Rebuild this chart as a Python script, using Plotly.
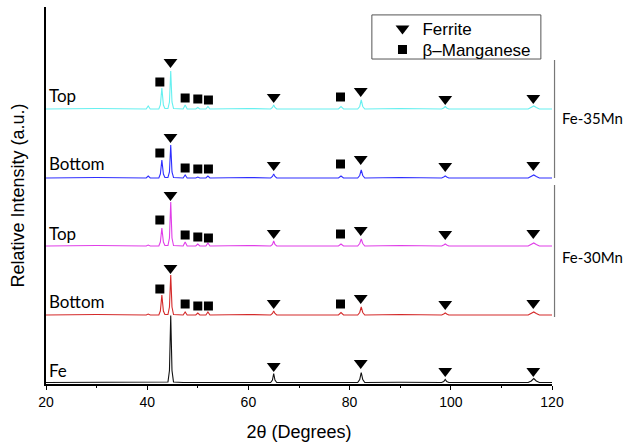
import plotly.graph_objects as go

# 2-theta sampling points (degrees)
two_theta = [20, 30, 39.8, 40.2, 40.6,
             42.3, 42.6, 42.9, 43.2, 43.5,
             44.1, 44.4, 44.65, 44.9, 45.2,
             47.1, 47.5, 47.9,
             49.6, 50.0, 50.4,
             51.6, 52.0, 52.4,
             60,
             64.4, 64.75, 65.0, 65.25, 65.6,
             77.8, 78.3, 78.8,
             81.6, 82.0, 82.3, 82.6, 83.0,
             90,
             98.2, 98.6, 98.9, 99.2, 99.6,
             115.3, 115.9, 116.4, 116.9, 117.5,
             120]

# intensities (a.u.) before vertical offset
fe35_top = [0, 0.5, 0, 3, 0,
            0, 4, 21, 4, 0.5,
            0.5, 7, 38, 7, 0.5,
            0, 4, 0,
            0, 1.5, 0,
            0, 2.5, 0,
            0.5,
            0, 1.5, 4, 1.5, 0,
            0, 2.5, 0,
            0, 2.5, 9, 2.5, 0,
            0.5,
            0, 1, 2.5, 1, 0,
            0, 1.5, 3, 1.5, 0,
            0]
fe35_bottom = [0, 0.5, 0, 2, 0,
               0, 4, 18, 4, 0.5,
               0.5, 6, 33, 6, 0.5,
               0, 3, 0,
               0, 1, 0,
               0, 2, 0,
               0.5,
               0, 1.5, 4, 1.5, 0,
               0, 2, 0,
               0, 2.5, 8, 2.5, 0,
               0.5,
               0, 1, 2, 1, 0,
               0, 1.5, 3, 1.5, 0,
               0]
fe30_top = [0, 0.5, 0, 1, 0,
            0, 4, 18, 4, 0.5,
            0.5, 8, 44, 8, 0.5,
            0, 4, 0,
            0, 2, 0,
            0, 3, 0,
            0.5,
            0, 1.5, 5, 1.5, 0,
            0, 2, 0,
            0, 2.5, 7, 2.5, 0,
            0.5,
            0, 1, 2, 1, 0,
            0, 1.5, 3, 1.5, 0,
            0]
fe30_bottom = [0, 0.5, 0, 1, 0,
               0, 4, 20, 4, 0.5,
               0.5, 8, 40, 8, 0.5,
               0, 3, 0,
               0, 2, 0,
               0, 3, 0,
               0.5,
               0, 1.5, 4, 1.5, 0,
               0, 2.5, 0,
               0, 2.5, 8, 2.5, 0,
               0.5,
               0, 1, 2, 1, 0,
               0, 1.5, 3, 1.5, 0,
               0]
fe_pure = [0, 0.3, 0, 0, 0,
           0, 0, 0, 0, 0,
           0.5, 12, 67, 12, 0.5,
           0, 0, 0,
           0, 0, 0,
           0, 0, 0,
           0.3,
           0, 2.5, 9, 2.5, 0,
           0, 0, 0,
           0, 3, 10, 3, 0,
           0.3,
           0, 1, 3, 1, 0,
           0, 1.5, 4, 1.5, 0,
           0]

series_names = ["Fe", "Fe-30Mn Bottom", "Fe-30Mn Top", "Fe-35Mn Bottom", "Fe-35Mn Top"]
series_values = [fe_pure, fe30_bottom, fe30_top, fe35_bottom, fe35_top]
series_offsets = [1.5, 69, 138, 206, 275]
series_colors = ["#111111", "#d42a2a", "#e03ee8", "#2f2fff", "#66f0f0"]
series_labels = ["Fe", "Bottom", "Top", "Bottom", "Top"]
label_y = [14, 83, 151, 221, 289]

# phase markers
ferrite_x = [44.6, 65.0, 82.2, 98.9, 116.3,
             44.6, 65.0, 82.2, 98.9, 116.3,
             44.6, 65.0, 82.2, 98.9, 116.3,
             44.6, 65.0, 82.2, 98.9, 116.3,
             65.0, 82.2, 98.9, 116.3]
ferrite_y = [322, 287, 293, 285, 286,
             247, 219, 225, 218, 219,
             189, 151, 154, 150, 151,
             116, 81, 86, 80, 81,
             18, 21, 13, 13]
mn_x = [42.5, 47.5, 50.0, 52.1, 78.2,
        42.5, 47.5, 50.0, 52.1, 78.2,
        42.5, 47.5, 50.0, 52.1, 78.2,
        42.5, 47.5, 50.0, 52.1, 78.2]
mn_y = [302, 286, 285, 284, 287,
        231, 216, 215, 215, 220,
        164, 149, 147, 146, 150,
        95, 80, 78, 78, 80]

fig = go.Figure()
for name, vals, off, col in zip(series_names, series_values, series_offsets, series_colors):
    fig.add_trace(go.Scatter(x=two_theta, y=[v + off for v in vals], mode="lines",
                             line=dict(color=col, width=1.1), name=name, showlegend=False))

fig.add_trace(go.Scatter(x=ferrite_x, y=ferrite_y, mode="markers", name="Ferrite", legend="legend",
                         marker=dict(symbol="triangle-down", size=12, color="black")))
fig.add_trace(go.Scatter(x=mn_x, y=mn_y, mode="markers", name="β–Manganese", legend="legend2",
                         marker=dict(symbol="square", size=9, color="black")))

for txt, yy in zip(series_labels, label_y):
    fig.add_annotation(x=20.1, y=yy, text=txt, showarrow=False, xanchor="left", yanchor="middle",
                       font=dict(family="Lato", size=17, color="black"))

# group brackets
fig.add_shape(type="line", xref="paper", yref="y", x0=1.005, x1=1.005, y0=206, y1=324,
              line=dict(color="#777777", width=1.2))
fig.add_shape(type="line", xref="paper", yref="y", x0=1.005, x1=1.005, y0=67, y1=199,
              line=dict(color="#777777", width=1.2))
fig.add_annotation(xref="paper", x=1.015, y=266, text="Fe-35Mn", showarrow=False, xanchor="left",
                   font=dict(family="Lato", size=15, color="black"))
fig.add_annotation(xref="paper", x=1.015, y=127, text="Fe-30Mn", showarrow=False, xanchor="left",
                   font=dict(family="Lato", size=15, color="black"))

# legend frame
fig.add_shape(type="rect", xref="paper", yref="paper", x0=0.644, x1=0.978, y0=0.862, y1=0.979,
              line=dict(color="#555555", width=1))

legend_common = dict(xanchor="left", yanchor="middle", bgcolor="rgba(0,0,0,0)", borderwidth=0,
                     font=dict(family="Arial, Liberation Sans", size=17))

fig.update_layout(
    width=632, height=447,
    margin=dict(l=46, r=80, t=7, b=63),
    plot_bgcolor="white", paper_bgcolor="white",
    font=dict(family="Arial, Liberation Sans", color="black"),
    showlegend=True,
    legend=dict(x=0.665, y=0.9416, **legend_common),
    legend2=dict(x=0.665, y=0.886, **legend_common),
    xaxis=dict(range=[20, 120], showline=True, linecolor="black", linewidth=1.5, automargin=False,
               ticks="outside", ticklen=4, tickwidth=1.3, tickcolor="black", dtick=20, tick0=20,
               tickfont=dict(size=14), showgrid=False, zeroline=False,
               minor=dict(dtick=10, ticks="outside", ticklen=2, tickcolor="black"),
               title=dict(text="2θ (Degrees)", font=dict(size=18), standoff=17)),
    yaxis=dict(range=[0, 377], showline=True, linecolor="black", linewidth=1.5, automargin=False,
               showticklabels=False, ticks="", showgrid=False, zeroline=False,
               title=dict(text="Relative Intensity (a.u.)", font=dict(size=18), standoff=15)),
)

fig.write_html("out.html", config={"displayModeBar": False},
               post_script="document.body.style.margin='0px';")
